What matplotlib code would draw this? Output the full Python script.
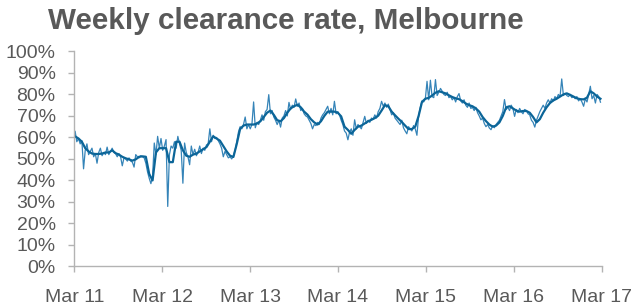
import numpy as np
import pandas as pd
import matplotlib
matplotlib.use("Agg")
import matplotlib.pyplot as plt
import matplotlib.dates as mdates
from matplotlib.ticker import FuncFormatter, MultipleLocator

plt.rcParams['font.family'] = ['Liberation Sans', 'DejaVu Sans']

# weekly clearance rate (%), first week of Mar 2011 onwards
weekly_rate = [
    # 2011/12
    62.8, 58, 59.5, 57, 58.5, 45.4, 54, 57, 52, 53.5, 55, 51, 52.5, 48, 53, 55,
    51.5, 53, 52, 55.5, 52, 53.5, 55, 53, 52.5, 51, 52.5, 51, 46.8, 50.5, 50, 49,
    50.5, 49, 48.5, 46.2, 52, 51, 50.5, 51.5, 51, 50.5, 48, 44, 41, 38.5, 42, 57.4,
    52, 60.5, 55, 59.5,
    # 2012/13
    54, 56, 59, 27.9, 52, 56, 55, 58, 55, 60.5, 57, 54, 38.7, 57.4, 53, 51,
    47.3, 56, 52, 54.5, 51.5, 53, 56, 52.5, 55, 54, 56.5, 57, 64, 58, 61, 59.5,
    60, 58.5, 57, 55, 51, 53.5, 52, 50.5, 51, 50, 51.5, 54, 58, 62.5, 65, 64,
    66, 69.5, 64, 66,
    # 2013/14
    64, 66, 76.5, 64.5, 67, 66, 68, 70.5, 68, 72, 73, 79.9, 71, 72.5, 69.5, 68,
    66, 68, 64.8, 69, 70, 72.5, 70, 76.3, 73, 75, 74, 77.9, 74.5, 76, 72.5, 73.5,
    71, 70, 69.5, 68, 66.5, 64, 66, 65.5, 67, 66, 69, 70.5, 71.5, 73, 74.5, 71,
    73.5, 70.5, 76.8, 71, 72,
    # 2014/15
    70.5, 68, 66, 63, 62, 58.9, 62.5, 64, 61, 68.2, 64, 66, 65, 64, 67, 69.8,
    66.5, 68, 67, 69, 68.5, 70.5, 69, 72, 73.5, 76.8, 74.5, 76, 74, 75.5, 73, 70.5,
    71.5, 69, 68, 67, 66, 68, 64.5, 63, 61.7, 65, 64, 63, 65.5, 64, 61, 70,
    74, 77, 76.5, 78,
    # 2015/16
    86.1, 77.5, 86.6, 79, 78.5, 86.9, 79.5, 81, 82.8, 81.5, 80, 79.5, 81, 78.5, 79, 77.5,
    78.5, 76.5, 79, 80.4, 77, 76, 77.5, 75, 74, 76, 73.5, 74, 72.5, 74, 71.5, 70,
    68.2, 69, 66.5, 65, 66, 64.4, 63.6, 65.5, 64.5, 66, 67, 68, 70, 72, 77.6, 73,
    74, 72.5, 75, 73.5,
    # 2016/17
    69.8, 73, 71.5, 73.5, 72, 71, 73, 72.5, 71, 70.5, 68, 67, 64.8, 68, 70, 72,
    73.5, 75, 73.5, 76, 77.5, 76, 78, 77, 79, 78, 80, 79, 87.2, 79.5, 80.5, 79.5,
    79, 80, 78.5, 79, 78, 79, 77, 78, 76.5, 74.5, 78, 76.5, 80, 83.8, 78, 79.5,
    76, 80, 79, 76.4,
]

# smoothed trend (%), read every second week
trend_rate = [
    60.5, 59.5, 58, 55, 53.5, 52.5, 52.3, 52.3, 52.5, 53, 53, 54, 52.7, 52, 51, 50.3,
    49.8, 49.2, 49.8, 51, 51.2, 51, 43, 40, 53, 55, 55,
    55, 48.5, 48.5, 58, 58, 54, 51.5, 51, 52, 52.5, 53.5, 54.5, 55.5, 58, 60.5,
    59.5, 58.5, 56, 53.5, 51.5, 50.9, 57, 64, 65.5, 66, 66,
    66, 66.5, 67.5, 69.5, 71.5, 72.5, 70.5, 68, 67.5, 69, 71.5, 73.5, 74.5, 75.2,
    74, 72, 70.6, 68.5, 67, 66, 67.5, 70, 72, 72, 72, 71.5,
    69.8, 65, 63.5, 61.7, 63.5, 65, 65.5, 66.5, 67.5, 68.2, 69, 70.1, 72.5, 75,
    74.5, 72, 70.3, 68.7, 67.2, 65.5, 63.9, 63.9, 65, 70, 76.5, 78,
    78.4, 79.5, 80.8, 81.5, 81, 80.5, 79.6, 78.8, 78.2, 77.8, 76.9, 75.8, 75, 74.5,
    73.5, 72, 69.5, 67.6, 66, 65, 65.5, 67, 70, 74, 74.5, 73.5,
    72.5, 72, 72.3, 72.3, 71.5, 69.5, 67, 68.5, 71.5, 74, 76, 77.2, 78, 79, 80,
    80.5, 79.8, 79, 78.2, 77.8, 77.7, 78.5, 81.5, 80.5, 79, 78,
]

weekly_dates = pd.date_range("2011-03-04", periods=len(weekly_rate), freq="7D")
trend_dates = pd.date_range("2011-03-04", periods=len(trend_rate), freq="14D")

grey_text = "#595959"
axis_grey = "#b3b3b3"

fig = plt.figure(figsize=(6.36, 3.08), dpi=100)
ax = fig.add_axes([0.117, 0.135, 0.829, 0.698])

ax.plot(weekly_dates, weekly_rate, color="#3584b8", lw=0.9)
ax.plot(trend_dates, trend_rate, color="#0b6598", lw=1.6)

ax.set_ylim(0, 100)
ax.set_xlim(pd.Timestamp("2011-03-01"), pd.Timestamp("2017-03-01"))
ax.yaxis.set_major_locator(MultipleLocator(10))
ax.yaxis.set_major_formatter(FuncFormatter(lambda v, p: f"{v:.0f}%"))
ax.xaxis.set_major_locator(mdates.MonthLocator(bymonth=3, bymonthday=1))
ax.xaxis.set_major_formatter(mdates.DateFormatter("Mar %y"))

for side in ["top", "right"]:
    ax.spines[side].set_visible(False)
for side in ["left", "bottom"]:
    ax.spines[side].set_color(axis_grey)
    ax.spines[side].set_linewidth(1.0)

ax.tick_params(axis="both", colors=axis_grey, labelcolor=grey_text,
               labelsize=14, length=4.5, width=1.0, direction="out")
ax.tick_params(axis="y", pad=9)
ax.tick_params(axis="x", pad=12)

fig.text(48 / 636, 1 - 21 / 308, "Weekly clearance rate, Melbourne",
         fontsize=21.3, fontweight="bold", color=grey_text, ha="left", va="center")

fig.savefig("out.png", dpi=100)
